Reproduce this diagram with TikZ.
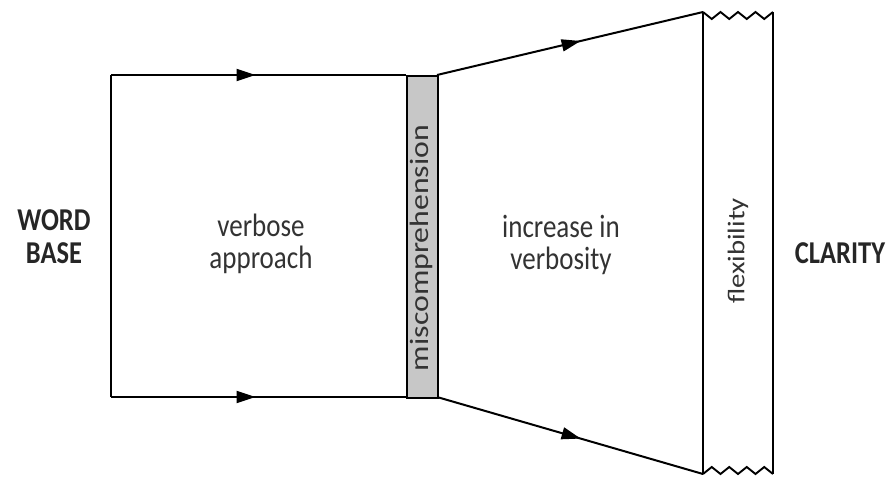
\documentclass[tikz,border=0pt]{standalone}
\usepackage{fontspec}
\setmainfont{Carlito}
\usetikzlibrary{decorations.markings,arrows.meta}
% taller-than-wide lettering: horizontal lines and upright (rotated) lines
\newcommand{\tallrows}[1]{\scalebox{1}[1.2]{\begin{tabular}{@{}c@{}}#1\end{tabular}}}
\newcommand{\longrun}[1]{\scalebox{1.2}[1]{#1}}
\begin{document}
\begin{tikzpicture}[x=1pt,y=-1pt,
  edge/.style={line width=2pt,black},
  torn/.style={line width=1.9pt,black,line join=miter},
  arrowat/.style={edge,postaction={decorate},decoration={markings,
      mark=at position #1 with {\arrow{Triangle[length=19pt,width=12pt]}}}},
  label/.style={text=black!80,font=\fontsize{27}{26}\selectfont,inner sep=0pt},
  bigtitle/.style={text=black!85,font=\bfseries\fontsize{26.5}{27.5}\selectfont,inner sep=0pt}]
  \useasboundingbox (0,0) rectangle (895,479);
  % corner points of the funnel outline
  \coordinate (TL) at (111,75);
  \coordinate (BL) at (111,397);
  \coordinate (MT) at (406,75);
  \coordinate (MB) at (406,397);
  \coordinate (GT) at (437,75);
  \coordinate (GB) at (437,397);
  \coordinate (RT) at (703,12);
  \coordinate (RB) at (703,474);
  \coordinate (FT) at (773,12);
  \coordinate (FB) at (773,474);
  % grey band
  \node[draw,line width=2pt,fill=black!22,minimum width=31pt,minimum height=322pt,
        inner sep=0pt,anchor=north west] (band) at (MT) {};
  % left section
  \draw[edge] (BL) -- (TL);
  \draw[arrowat=0.49] (TL) -- (MT);
  \draw[arrowat=0.49] (BL) -- (MB);
  % flaring section
  \draw[arrowat=0.54] (GT) -- (RT);
  \draw[arrowat=0.54] (GB) -- (RB);
  % right strip with torn edges
  \draw[edge] (RT) -- (RB);
  \draw[edge] (FT) -- (FB);
  \draw[torn] (RT) -- ++(8.75,7) -- ++(8.75,-7) -- ++(8.75,7) -- ++(8.75,-7)
      -- ++(8.75,7) -- ++(8.75,-7) -- ++(8.75,7) -- (FT);
  \draw[torn] (RB) -- ++(8.75,-7) -- ++(8.75,7) -- ++(8.75,-7) -- ++(8.75,7)
      -- ++(8.75,-7) -- ++(8.75,7) -- ++(8.75,-7) -- (FB);
  % texts
  \node[bigtitle] (word) at (54,240) {\tallrows{WORD\\BASE}};
  \node[label] (verbose) at (261,246) {\tallrows{verbose\\approach}};
  \node[label] (incr) at (561,247) {\tallrows{increase in\\verbosity}};
  \node[label,rotate=90,font=\fontsize{26.5}{26}\selectfont] (mis) at (421,248) {\longrun{miscomprehension}};
  \node[label,rotate=90,font=\fontsize{24}{24}\selectfont] (flex) at (738,251) {\longrun{flexibility}};
  \node[bigtitle] (clar) at (840,257) {\tallrows{CLARITY}};
\end{tikzpicture}
\end{document}
